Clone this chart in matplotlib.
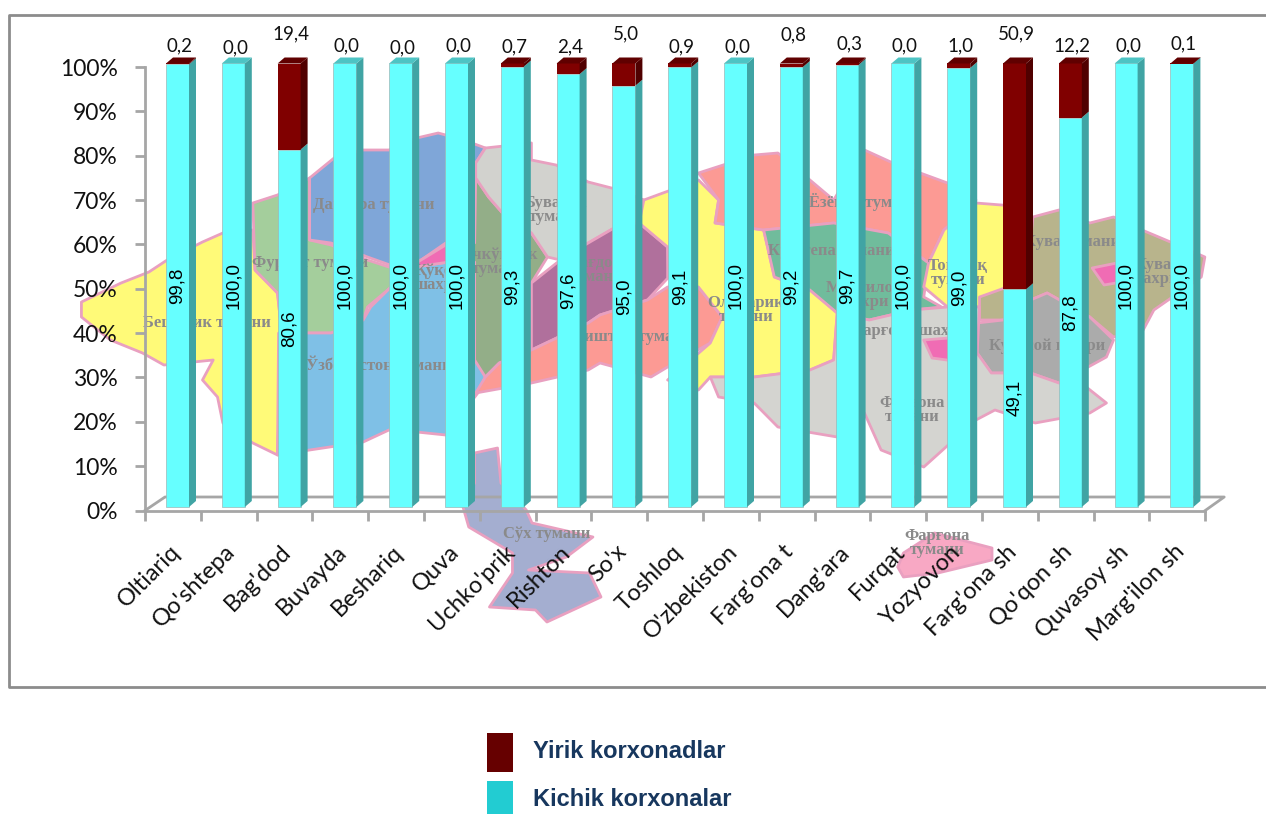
import matplotlib
matplotlib.use('Agg')
import matplotlib.pyplot as plt
from matplotlib.patches import Polygon, Rectangle
from matplotlib.transforms import ScaledTranslation
import numpy as np

# Donnees du graphique
districts = ["Oltiariq", "Qo'shtepa", "Bag'dod", "Buvayda", "Beshariq", "Quva", "Uchko'prik",
             "Rishton", "So'x", "Toshloq", "O'zbekiston", "Farg'ona t", "Dang'ara", "Furqat",
             "Yozyovon", "Farg'ona sh", "Qo'qon sh", "Quvasoy sh", "Marg'ilon sh"]
kichik = [99.8, 100.0, 80.6, 100.0, 100.0, 100.0, 99.3, 97.6, 95.0, 99.1,
          100.0, 99.2, 99.7, 100.0, 99.0, 49.1, 87.8, 100.0, 100.0]
yirik = [0.2, 0.0, 19.4, 0.0, 0.0, 0.0, 0.7, 2.4, 5.0, 0.9,
         0.0, 0.8, 0.3, 0.0, 1.0, 50.9, 12.2, 0.0, 0.1]
y_ticks = [0, 10, 20, 30, 40, 50, 60, 70, 80, 90, 100]
# hauteur des etiquettes au-dessus des barres (pixels)
top_label_lift = [18, 16, 30, 18, 16, 18, 17, 17, 30, 17, 17, 29, 20, 18, 18, 30, 18, 18, 20]

W, H = 1266, 814
PINK = '#E9A0C0'


# Les contours de la carte ont ete releves sur trois morceaux, chacun avec sa propre echelle en x
def left(pts):
    return [(60 + (x - 60) * 1.0714, y) for x, y in pts]


def right(pts):
    return [(600 + (x - 600) * 1.186, y) for x, y in pts]


def low(pts):
    return [(440 + (x - 440) * 1.15, y) for x, y in pts]


# Carte de fond (purement decorative)
map_regions = [
    ('#FFFA78', left([(80, 302), (117, 283), (143, 272), (160, 260), (193, 242), (212, 233), (240, 230),
                      (242, 270), (263, 293), (267, 333), (263, 455), (240, 443), (212, 423), (207, 397),
                      (193, 380), (203, 360), (157, 365), (137, 353), (107, 340), (80, 317)])),
    ('#A4CE9C', left([(240, 203), (263, 195), (293, 178), (293, 240), (313, 245), (347, 260), (367, 267),
                      (385, 268), (368, 288), (347, 307), (343, 320), (313, 333), (267, 333), (263, 293),
                      (242, 270)])),
    ('#7FA6D8', left([(293, 178), (317, 157), (343, 150), (367, 150), (393, 138), (413, 133), (437, 140),
                      (457, 148), (448, 163), (448, 180), (447, 243), (420, 243), (397, 260), (368, 265),
                      (347, 257), (313, 243), (293, 240)])),
    ('#7FC0E6', left([(293, 333), (313, 333), (343, 320), (350, 307), (368, 288), (385, 268), (423, 262),
                      (447, 262), (448, 360), (457, 377), (450, 393), (420, 435), (393, 432), (367, 430),
                      (343, 442), (293, 450), (263, 455), (264, 333)])),
    ('#93AE88', left([(448, 178), (460, 197), (473, 213), (500, 233), (515, 257), (500, 283), (497, 350),
                      (470, 363), (457, 377), (447, 360), (447, 262), (423, 262), (423, 243), (447, 243)])),
    ('#F06CB4', left([(385, 268), (397, 260), (423, 243), (423, 262)])),
    ('#D2D2CE', left([(448, 163), (457, 148), (500, 143), (500, 160), (523, 165), (553, 182), (582, 190)])
     + right([(637, 200), (633, 223)])
     + left([(582, 225), (553, 243), (527, 260), (515, 257), (500, 233), (473, 213), (460, 197), (448, 178)])),
    ('#B0709C', left([(527, 260), (553, 243), (582, 225)])
     + right([(633, 223), (657, 247), (658, 277), (640, 300), (600, 315)])
     + left([(553, 323), (500, 350), (500, 283)])),
    ('#FC9A94', left([(448, 393), (457, 377), (470, 363), (500, 350), (553, 323)])
     + right([(600, 315), (640, 300), (657, 287), (683, 287), (703, 317), (693, 343), (657, 367), (643, 377),
              (600, 363)])
     + left([(553, 370), (500, 383)])),
    ('#FFFA78', right([(637, 200), (683, 180), (700, 200), (697, 223), (738, 230), (747, 277), (777, 290),
                       (800, 313), (797, 360), (777, 370), (730, 377), (693, 377), (683, 390), (657, 380),
                       (693, 343), (703, 317), (683, 287), (657, 277), (657, 247), (633, 223)])),
    ('#FC9A94', right([(683, 173), (730, 155), (750, 153), (777, 180), (797, 200), (823, 150), (847, 163),
                       (893, 183), (917, 200), (890, 230), (877, 263), (843, 233), (797, 223), (738, 230),
                       (697, 223), (700, 200)])),
    ('#70BC9C', right([(738, 230), (797, 223), (843, 233), (877, 263), (873, 297), (888, 307), (863, 310),
                       (827, 320), (800, 313), (777, 290), (747, 277)])),
    ('#FFFA78', right([(917, 203), (960, 207), (960, 280), (920, 307), (893, 307), (873, 287), (877, 263),
                       (890, 230)])),
    ('#B8B48C', right([(920, 320), (920, 297), (960, 280), (965, 217), (987, 210), (1013, 223), (1033, 217),
                       (1057, 230), (1083, 243), (1110, 257), (1107, 277), (1067, 310), (1058, 330),
                       (1033, 337), (1013, 317), (977, 293), (963, 300), (940, 320)])),
    ('#ABABAB', right([(918, 323), (940, 320), (963, 300), (977, 293), (1013, 317), (1033, 340), (1027, 357),
                       (987, 383), (963, 373), (930, 373), (918, 353)])),
    ('#D4D4D0', right([(693, 377), (730, 377), (777, 370), (797, 360), (800, 313), (827, 320), (863, 310),
                       (893, 307), (920, 307), (918, 353), (930, 373), (963, 373), (987, 383), (1010, 387),
                       (1027, 403), (1013, 413), (967, 423), (933, 410), (917, 420), (873, 467), (837, 450),
                       (823, 413), (800, 437), (750, 427), (730, 403), (700, 397)])),
    ('#F06CB4', right([(873, 340), (905, 337), (905, 362), (880, 358)])),
    ('#F06CB4', right([(1015, 268), (1040, 262), (1050, 280), (1025, 285)])),
    ('#A4AED0', low([(470, 453), (490, 448), (493, 483), (515, 510), (520, 523), (573, 537), (550, 557),
                     (517, 570), (570, 573), (580, 597), (533, 622), (523, 610), (483, 607), (503, 573),
                     (503, 553), (465, 527), (460, 507), (470, 483)])),
    ('#F8A8C4', low([(838, 567), (843, 553), (870, 533), (920, 548), (920, 560), (873, 573), (843, 577)])),
]
map_names = (
    [(x, y, s) for (x, y), s in zip(left([(197, 323), (353, 205), (293, 263), (358, 365), (560, 270),
                                          (523, 210), (470, 262), (413, 278)]),
                                    ["Бешарик тумани", "Данғара тумани", "Фурқат тумани", "Ўзбекистон тумани",
                                     "Бағдод\nтумани", "Бувайда\nтумани", "Учкўприк\nтумани", "Қўқон\nшахри"])]
    + [(x, y, s) for (x, y), s in zip(right([(998, 242), (1067, 272), (863, 410), (795, 251), (823, 202),
                                             (902, 273), (823, 295), (860, 331), (977, 346), (723, 310),
                                             (628, 337)]),
                                      ["Кува тумани", "Кува\nшахри", "Фарғона\nтумани", "Кўштепа тумани",
                                       "Ёзёвон тумани", "Тошлоқ\nтумани", "Марғилон\nшахри", "Фарғона шахри",
                                       "Кувасой шахри", "Олтиариқ\nтумани", "Риштон тумани"])]
    + [(x, y, s) for (x, y), s in zip(low([(533, 534), (872, 543)]), ["Сўх тумани", "Фарғона\nтумани"])]
)

fig = plt.figure(figsize=(W / 100, H / 100), dpi=100, facecolor='white')

# Calque de fond en pixels : cadre, carte, legende
bg = fig.add_axes([0, 0, 1, 1])
bg.set_xlim(0, W)
bg.set_ylim(H, 0)
bg.axis('off')
bg.plot([W + 5, 9, 9, W + 5], [15, 15, 687, 687], color='#8C8C8C', lw=2, zorder=1)
for colour, pts in map_regions:
    bg.add_patch(Polygon(pts, closed=True, facecolor=colour, edgecolor=PINK, lw=2, joinstyle='round', zorder=2))
for px, py, name in map_names:
    bg.text(px, py, name, family='Liberation Serif', weight='bold', fontsize=12, color='#8A8A8A',
            ha='center', va='center', linespacing=0.9, zorder=3)

bg.add_patch(Rectangle((487, 733), 26, 39, facecolor='#660000', edgecolor='none'))
bg.add_patch(Rectangle((487, 781), 26, 33, facecolor='#22CCD2', edgecolor='none'))
bg.text(533, 752, "Yirik korxonadlar", family='Liberation Sans', weight='bold', fontsize=17,
        color='#17375E', va='center')
bg.text(533, 799, "Kichik korxonalar", family='Liberation Sans', weight='bold', fontsize=17,
        color='#17375E', va='center')

# Axes du graphique
n = len(districts)
x0, y0 = 145, 510.5
pitch = 55.8
y100 = 67
ax = fig.add_axes([x0 / W, 1 - y0 / H, n * pitch / W, (y0 - y100) / H])
ax.patch.set_alpha(0)
ax.set_xlim(0, n)
ax.set_ylim(0, 100)
per_px_x = 1 / pitch
per_px_y = 100 / (y0 - y100)

GRID = '#A6A6A6'
for s in ['top', 'right']:
    ax.spines[s].set_visible(False)
for s in ['left', 'bottom']:
    ax.spines[s].set_color(GRID)
    ax.spines[s].set_linewidth(2)

# Plancher 3D
floor_dx, floor_dy = 20 * per_px_x, 13.5 * per_px_y
ax.plot([0, floor_dx, n + 19 * per_px_x, n], [0, floor_dy, floor_dy, 0], color=GRID, lw=2,
        clip_on=False, zorder=3)

ax.set_yticks(y_ticks)
ax.set_yticklabels([f"{v}%" for v in y_ticks], family='Lato', fontsize=16.5, color='#111111')
ax.tick_params(axis='y', length=7, width=2, color=GRID, pad=12.5)

ax.set_xticks(np.arange(n + 1), minor=True)
ax.tick_params(axis='x', which='minor', length=7, width=2, color=GRID, direction='out')
ax.set_xticks(np.arange(n) + 0.5)
ax.set_xticklabels(districts, family='Lato', fontsize=17, color='#111111', rotation=45,
                   ha='right', va='top', rotation_mode='anchor')
ax.tick_params(axis='x', which='major', length=0, pad=22)
shift = ScaledTranslation(-4 / 100, 0, fig.dpi_scale_trans)
for lab in ax.get_xticklabels():
    lab.set_transform(lab.get_transform() + shift)

# Barres empilees avec faces 3D
bar_w = 23 * per_px_x
bar_x = np.arange(n) + 21 * per_px_x + bar_w / 2
base = 3.5 * per_px_y
dx, dy = 7 * per_px_x, 6 * per_px_y
kichik = np.array(kichik)
yirik = np.array(yirik)

ax.bar(bar_x, kichik, bar_w, bottom=base, color='#66FFFF', edgecolor='#9DB8B8', lw=0.5, zorder=4, clip_on=False)
ax.bar(bar_x, yirik, bar_w, bottom=base + kichik, color='#800000', edgecolor='none', zorder=4, clip_on=False)


def side_face(x, lo, hi, colour):
    xr = x + bar_w / 2
    ax.add_patch(Polygon([(xr, lo), (xr + dx, lo + dy), (xr + dx, hi + dy), (xr, hi)],
                         closed=True, facecolor=colour, edgecolor='none', zorder=4, clip_on=False))


def top_face(x, level, colour):
    xl, xr = x - bar_w / 2, x + bar_w / 2
    ax.add_patch(Polygon([(xl, level), (xr, level), (xr + dx, level + dy), (xl + dx, level + dy)],
                         closed=True, facecolor=colour, edgecolor='none', zorder=5, clip_on=False))


for i in range(n):
    x = bar_x[i]
    side_face(x, base, base + kichik[i], '#40A4A4')
    if yirik[i] > 0:
        side_face(x, base + kichik[i], base + kichik[i] + yirik[i], '#500000')
        top_face(x, base + 100, '#600000')
    else:
        top_face(x, base + 100, '#4DC4C4')
    ax.text(x, base + kichik[i] / 2, f"{kichik[i]:.1f}".replace('.', ','), rotation=90, ha='center',
            va='center', family='Liberation Sans', fontsize=13.5, color='black', zorder=6)
    ax.annotate(f"{yirik[i]:.1f}".replace('.', ','), (x + 2 * per_px_x, base + 100),
                xytext=(0, top_label_lift[i] * 0.72), textcoords='offset points', ha='center',
                va='center', family='Lato', fontsize=13.5, color='#111111', annotation_clip=False, zorder=6)

fig.savefig('out.png', dpi=100)
